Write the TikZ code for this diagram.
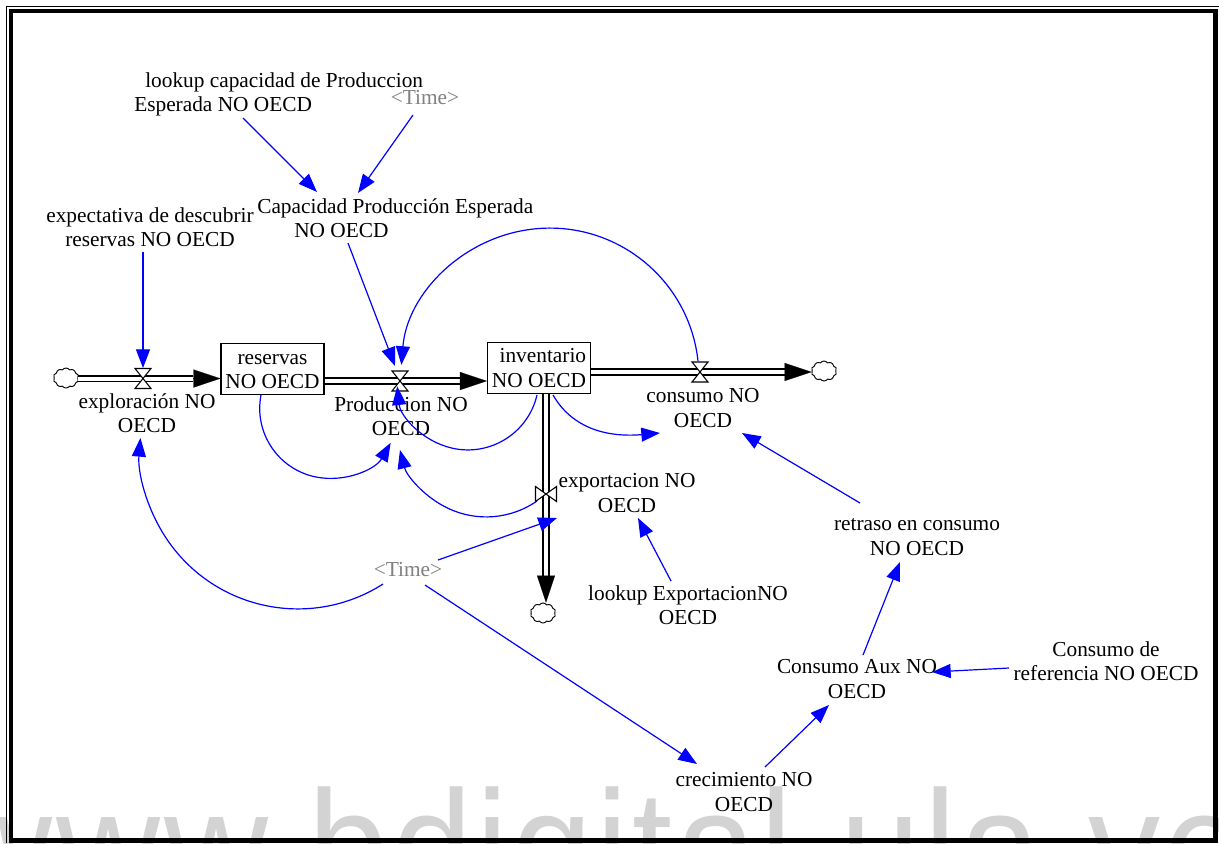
\documentclass[tikz,border=0pt]{standalone}
\usepackage{fontspec}
\setmainfont{Liberation Serif}
\newfontfamily\wmfont[LetterSpace=2.8]{Liberation Sans}
\usetikzlibrary{arrows.meta,shapes.symbols,calc}
\definecolor{linkblue}{RGB}{0,0,255}
\definecolor{timegray}{RGB}{128,128,128}
\definecolor{wmgray}{RGB}{211,211,211}
\tikzset{
  lbl/.style={inner sep=0pt, align=center, font=\fontsize{16pt}{18.4pt}\selectfont},
  tlbl/.style={lbl, text=timegray},
  stock/.style={lbl, draw, line width=1.1pt, minimum width=77pt, minimum height=38.5pt},
  link/.style={draw=linkblue, line width=0.9pt, -{Triangle[length=14pt,width=10.5pt]}},
  pipe/.style={draw=black, line width=1.2pt, double=white, double distance=3pt},
  flowtip/.style={-{Triangle[length=20.25pt,width=13.5pt]}, line width=0.1pt},
  cloudsty/.style={cloud, cloud puffs=10, cloud puff arc=110, aspect=1.25, draw, line width=0.7pt, minimum width=19pt, minimum height=15pt, inner sep=0pt},
  valvestyle/.style={draw=black, fill=white, line width=0.8pt},
  vvalve/.pic={\draw[valvestyle] (-8,10)--(8,10)--(-8,-10)--(8,-10)--cycle;},
  hvalve/.pic={\draw[valvestyle] (-10.5,7.5)--(-10.5,-7.5)--(10.5,7.5)--(10.5,-7.5)--cycle;}
}
\begin{document}
\begin{tikzpicture}[x=0.75pt,y=0.75pt]
\useasboundingbox (0,0) rectangle (1219,-843);
\fill[white] (0,0) rectangle (1219,-843);
% watermark
\begin{scope}
\clip (0,0) rectangle (1219,-843);
\node[anchor=base west, inner sep=0pt, text=wmgray, font=\wmfont\fontsize{117.75pt}{120pt}\selectfont, xscale=0.917] (wm) at (-52,-900) {www.bdigital.ula.ve};
\end{scope}
% frame
\draw[line width=0.75pt] (6.5,-843) -- (6.5,-6.5) -- (1219,-6.5);
\draw[line width=3.5pt] (11,-11) rectangle (1215.5,-840.5);

% labels
\node[lbl] (tExpect) at (150,-227) {expectativa de descubrir\\reservas NO OECD};
\node[lbl, align=left, anchor=west] (tLookupCap) at (134,-94.3) {\hspace*{8.25pt}lookup capacidad de Produccion\\Esperada NO OECD};
\node[tlbl] (tTime1) at (425,-98) {<Time>};
\node[lbl, align=left, anchor=west] (tCap) at (257,-218.2) {Capacidad Producción Esperada\\\hspace*{27.75pt}NO OECD};
\node[stock] (reservas) at (272.5,-369) {reservas\vphantom{d}\\NO OECD};
\node[stock, align=right] (inventario) at (539,-368) {inventario\\NO OECD};
\node[lbl] (tExplor) at (147,-413.2) {exploración NO\\OECD};
\node[lbl] (tProd) at (401,-416) {Produccion NO\\OECD};
\node[lbl] (tCons) at (703,-408) {consumo NO\\OECD};
\node[lbl] (tExport) at (627,-493) {exportacion NO\\OECD};
\node[tlbl] (tTime2) at (408,-570) {<Time>};
\node[lbl] (tLookupExp) at (688,-605) {lookup ExportacionNO\\OECD};
\node[lbl] (tRetraso) at (917,-537) {retraso en consumo\\NO OECD};
\node[lbl] (tConsAux) at (857,-679) {Consumo Aux NO\\OECD};
\node[lbl] (tConsRef) at (1106,-661) {Consumo de\\referencia NO OECD};
\node[lbl] (tCrec) at (744,-792) {crecimiento NO\\OECD};

% valves and clouds
\coordinate (vExp) at (143,-378.5);
\coordinate (vProd) at (400,-381);
\coordinate (vCons) at (700,-372);
\coordinate (vExport) at (546,-494);
\node[cloudsty] (cloudL) at (66,-378) {};
\node[cloudsty] (cloudR) at (824,-371) {};
\node[cloudsty] (cloudB) at (543,-613) {};

% pipes
\draw[pipe] (cloudL.east |- vExp) -- ($(reservas.west |- vExp)+(-27,0)$);
\draw[flowtip] ($(reservas.west |- vExp)+(-27,0)$) -- (reservas.west |- vExp);
\draw[pipe] (reservas.east |- vProd) -- ($(inventario.west |- vProd)+(-27,0)$);
\draw[flowtip] ($(inventario.west |- vProd)+(-27,0)$) -- (inventario.west |- vProd);
\draw[pipe] (inventario.east |- vCons) -- ($(cloudR.west |- vCons)+(-27,0)$);
\draw[flowtip] ($(cloudR.west |- vCons)+(-27,0)$) -- (cloudR.west |- vCons);
\draw[pipe] (inventario.south -| vExport) -- ($(cloudB.north -| vExport)+(0,27)$);
\draw[flowtip] ($(cloudB.north -| vExport)+(0,27)$) -- (cloudB.north -| vExport);

\pic at (vExp) {vvalve};
\pic at (vProd) {vvalve};
\pic at (vCons) {vvalve};
\pic at (vExport) {hvalve};

% links
\draw[link] ([shift={(-7,-25)}]tExpect.center) -- ([shift={(0,10.5)}]vExp);
\draw[link] ([shift={(109,-23.7)}]tLookupCap.west) -- ([shift={(60,26.2)}]tCap.west);
\draw[link] ([shift={(-12,-17)}]tTime1.center) -- ([shift={(101,25.2)}]tCap.west);
\draw[link] ([shift={(91,-24.8)}]tCap.west) -- ([shift={(-5,15)}]vProd);
\draw[link] ([shift={(-2,11)}]vCons) arc[start angle=6.2, end angle=175.3, radius=149];
\draw[link] ([shift={(-11.5,-26)}]reservas.center) arc[start angle=169, end angle=330.5, radius=70];
\draw[link] ([shift={(-2,-27)}]inventario.center) arc[start angle=346.9, end angle=186, radius=71];
\draw[link] ([shift={(14,-27)}]inventario.center) to[out=-60,in=185] ([shift={(-43,-25)}]tCons.center);
\draw[link] ([shift={(-9,-7)}]vExport) arc[start angle=304.8, end angle=194.3, radius=89];
\draw[link] ([shift={(30,10)}]tTime2.center) -- ([shift={(11,-24)}]vExport);
\draw[link] ([shift={(-25,-14)}]tTime2.center) arc[start angle=302.6, end angle=175.3, radius=158];
\draw[link] ([shift={(17,-15)}]tTime2.center) -- ([shift={(-47,28)}]tCrec.center);
\draw[link] ([shift={(21,25)}]tCrec.center) -- ([shift={(-28,-26)}]tConsAux.center);
\draw[link] ([shift={(6,24)}]tConsAux.center) -- ([shift={(-17,-25)}]tRetraso.center);
\draw[link] ([shift={(-57,34)}]tRetraso.center) -- ([shift={(39,-25)}]tCons.center);
\draw[link] ([shift={(-97,-7)}]tConsRef.center) -- ([shift={(75,7)}]tConsAux.center);
\draw[link] ([shift={(-17,24)}]tLookupExp.center) -- ([shift={(11,-25)}]tExport.center);
\end{tikzpicture}
\end{document}
